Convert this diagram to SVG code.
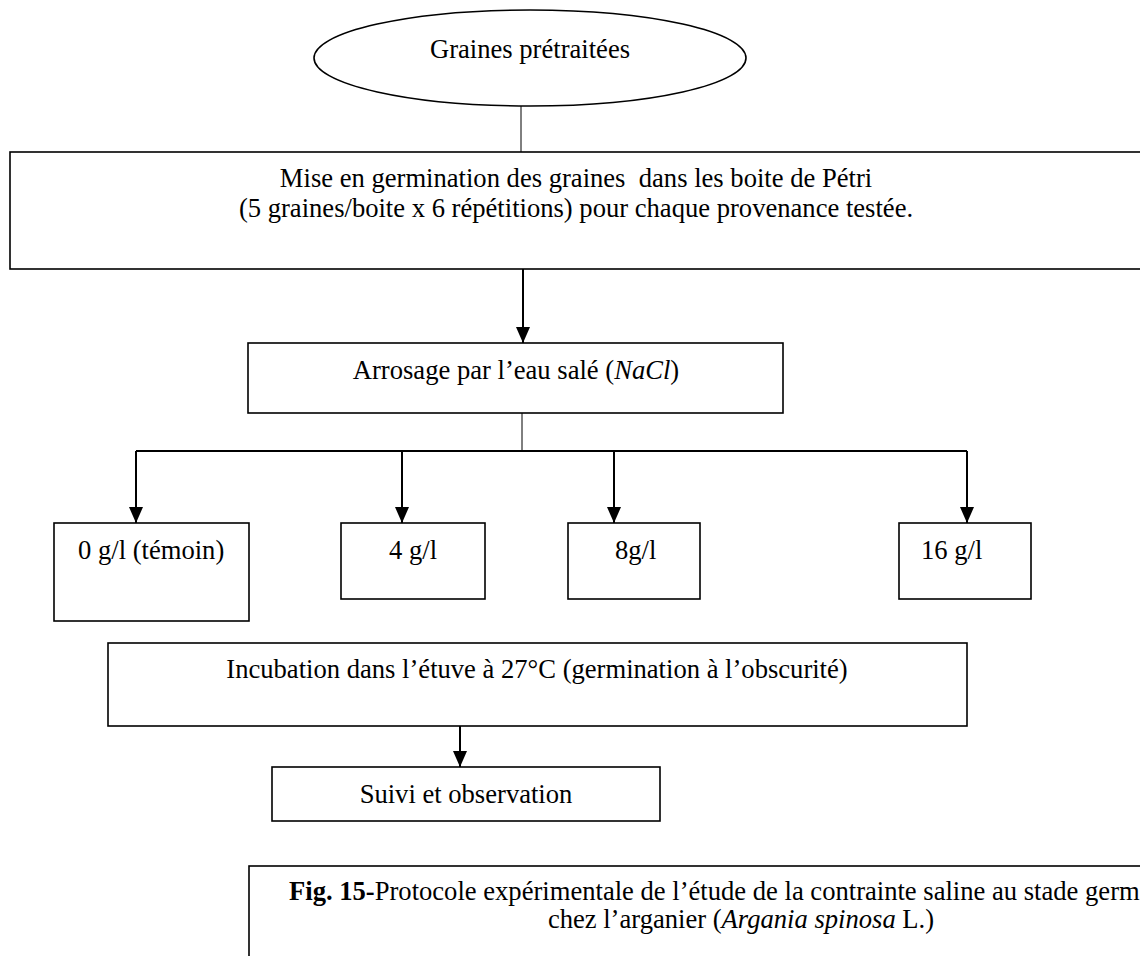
<svg xmlns="http://www.w3.org/2000/svg" width="1140" height="956" viewBox="0 0 1140 956">
<defs>
<style>
.box{fill:#fff;stroke:#000;stroke-width:1.6}
.t{font-family:"Liberation Serif","Times New Roman",serif;font-size:26.6px;fill:#000}
.c{text-anchor:middle}
.thin{stroke:#000;stroke-width:1;fill:none}
.arr{stroke:#000;stroke-width:2;fill:none}
.arrh{stroke:#000;stroke-width:2;fill:none;marker-end:url(#ah)}
</style>
<marker id="ah" markerUnits="userSpaceOnUse" markerWidth="16" markerHeight="14" viewBox="0 0 16 14" refX="16" refY="7" orient="auto">
<path d="M0,0 L16,7 L0,14 z" fill="#000"/>
</marker>
</defs>
<rect width="1140" height="956" fill="#fff"/>
<g id="connectors">
<line class="thin" x1="521" y1="106" x2="521" y2="152"/>
<line class="arrh" x1="523" y1="269" x2="523" y2="343"/>
<line class="thin" x1="522" y1="413" x2="522" y2="451"/>
<line class="arr" x1="136" y1="451" x2="967" y2="451"/>
<line class="arrh" x1="136" y1="451" x2="136" y2="523"/>
<line class="arrh" x1="402" y1="451" x2="402" y2="523"/>
<line class="arrh" x1="614" y1="451" x2="614" y2="523"/>
<line class="arrh" x1="967" y1="451" x2="967" y2="523"/>
<line class="arrh" x1="460" y1="723" x2="460" y2="767"/>
</g>
<g id="graines">
<ellipse class="box" cx="530" cy="58" rx="216" ry="48" stroke-width="1.4"/>
<text class="t c" x="530" y="58">Graines prétraitées</text>
</g>
<g id="mise">
<rect class="box" x="10" y="152" width="1135" height="117"/>
<text class="t c" x="576" y="187" xml:space="preserve">Mise en germination des graines  dans les boite de Pétri</text>
<text class="t c" x="576" y="217">(5 graines/boite x 6 répétitions) pour chaque provenance testée.</text>
</g>
<g id="arrosage">
<rect class="box" x="248" y="343" width="535" height="70"/>
<text class="t c" x="516" y="379">Arrosage par l’eau salé (<tspan font-style="italic">NaCl</tspan>)</text>
</g>
<g id="c0">
<rect class="box" x="54" y="523" width="195" height="98"/>
<text class="t" x="78" y="559">0 g/l (témoin)</text>
</g>
<g id="c4">
<rect class="box" x="341" y="523" width="144" height="76"/>
<text class="t" x="389" y="559">4 g/l</text>
</g>
<g id="c8">
<rect class="box" x="568" y="523" width="132" height="76"/>
<text class="t" x="615" y="559">8g/l</text>
</g>
<g id="c16">
<rect class="box" x="899" y="523" width="132" height="76"/>
<text class="t" x="921" y="559">16 g/l</text>
</g>
<g id="incubation">
<rect class="box" x="108" y="643" width="859" height="83"/>
<text class="t c" x="537" y="678">Incubation dans l’étuve à 27°C (germination à l’obscurité)</text>
</g>
<g id="suivi">
<rect class="box" x="272" y="767" width="388" height="54"/>
<text class="t c" x="466" y="803">Suivi et observation</text>
</g>
<g id="caption">
<rect class="box" x="249" y="866" width="1000" height="200"/>
<text class="t" x="289" y="900"><tspan font-weight="bold">Fig. 15-</tspan>Protocole expérimentale de l’étude de la contrainte saline au stade germ</text>
<text class="t c" x="741" y="928">chez l’arganier (<tspan font-style="italic">Argania spinosa</tspan> L.)</text>
</g>
</svg>
